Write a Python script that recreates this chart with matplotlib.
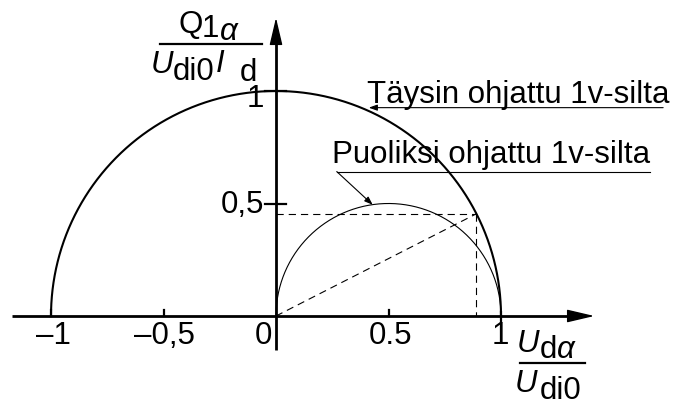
import numpy as np
import matplotlib
matplotlib.use('Agg')
import matplotlib.pyplot as plt
from matplotlib.patches import FancyArrowPatch

plt.rcParams['font.family'] = ['Liberation Sans', 'DejaVu Sans']

# circle diagram values (per unit)
full_radius = 1.0
half_center = 0.5
half_radius = 0.5
point_x = 0.89
point_y = 0.454

x_ticks = [-1, -0.5, 0, 0.5, 1]
x_labels = ['\u20131', '\u20130,5', '0', '0.5', '1']
y_ticks = [0.5, 1]
y_labels = ['0,5', '1']

label_full = 'Täysin ohjattu 1v-silta'
label_half = 'Puoliksi ohjattu 1v-silta'

fs = 22.5

fig = plt.figure(figsize=(6.75, 4), dpi=100)
ax = fig.add_axes([0, 0, 1, 1])
ax.set_xlim(-276 / 225, (675 - 276) / 225)
ax.set_ylim(-(400 - 316) / 225, 316 / 225)
ax.axis('off')

# axes with arrow heads
ax.plot([-1.173, 1.36], [0, 0], color='black', lw=2, solid_capstyle='butt')
ax.plot([0, 0], [-0.151, 1.28], color='black', lw=2, solid_capstyle='butt')
for tail, tip in [((1.30, 0), (1.427, 0)), ((0, 1.22), (0, 1.338))]:
    ax.add_patch(FancyArrowPatch(tail, tip, arrowstyle='-|>,head_length=1.7,head_width=0.4',
                                 mutation_scale=10, color='black', lw=1))

# ticks
for t in x_ticks:
    if t == 0:
        continue
    if t == 1:
        ax.plot([t, t], [-0.025, 0.02], color='black', lw=1.6)
    else:
        ax.plot([t, t], [0, 0.025], color='black', lw=1.6)
for t in y_ticks:
    ax.plot([-0.05, 0.045], [t, t], color='black', lw=1.6)

# tick labels
x_label_pos = {-1: -0.99, -0.5: -0.498, 0: -0.056, 0.5: 0.51, 1: 0.995}
for t, lab in zip(x_ticks, x_labels):
    ax.text(x_label_pos[t], -0.124, lab, fontsize=fs, ha='center', va='baseline')
y_label_base = {0.5: 0.458, 1: 0.929}
for t, lab in zip(y_ticks, y_labels):
    ax.text(-0.052, y_label_base[t], lab, fontsize=fs, ha='right', va='baseline')

# full and half controlled bridge semicircles
th = np.linspace(0, np.pi, 400)
ax.plot(full_radius * np.cos(th), full_radius * np.sin(th), color='black', lw=1.5)
ax.plot(half_center + half_radius * np.cos(th), half_radius * np.sin(th), color='black', lw=0.8)

# operating point construction
dash = (0, (6.5, 4.5))
ax.plot([0, point_x], [point_y, point_y], color='black', lw=0.8, linestyle=dash)
ax.plot([point_x, point_x], [point_y, 0], color='black', lw=0.8, linestyle=dash)
ax.plot([0, point_x], [0, point_y], color='black', lw=0.8, linestyle=dash)

# labels with leader lines
ax.text(0.404, 0.945, label_full, fontsize=fs, ha='left', va='baseline')
ax.add_patch(FancyArrowPatch((1.733, 0.926), (0.40, 0.926),
                             arrowstyle='-|>,head_length=0.5,head_width=0.18',
                             mutation_scale=10, color='black', lw=0.8))
ax.text(0.247, 0.679, label_half, fontsize=fs, ha='left', va='baseline')
ax.plot([0.27, 1.662], [0.642, 0.642], color='black', lw=0.8)
ax.add_patch(FancyArrowPatch((0.27, 0.642), (0.43, 0.494),
                             arrowstyle='-|>,head_length=0.5,head_width=0.18',
                             mutation_scale=10, color='black', lw=0.8, shrinkA=0, shrinkB=0))

# y axis quantity Q1a / (Udi0 Id)
ax.text(-0.435, 1.258, 'Q', fontsize=fs, va='baseline')
ax.text(-0.33, 1.241, '1', fontsize=fs, va='baseline')
ax.text(-0.25, 1.227, '\u03b1', fontsize=fs, style='italic', va='baseline')
ax.plot([-0.516, -0.062], [1.208, 1.208], color='black', lw=1.6)
ax.text(-0.555, 1.08, 'U', fontsize=fs, style='italic', va='baseline')
ax.text(-0.457, 1.049, 'di0', fontsize=fs, va='baseline')
ax.text(-0.266, 1.086, 'I', fontsize=fs, style='italic', va='baseline')
ax.text(-0.16, 1.044, 'd', fontsize=fs, va='baseline')

# x axis quantity Uda / Udi0
ax.text(1.068, -0.159, 'U', fontsize=fs, style='italic', va='baseline')
ax.text(1.172, -0.187, 'd', fontsize=fs, va='baseline')
ax.text(1.25, -0.187, '\u03b1', fontsize=fs, style='italic', va='baseline')
ax.plot([1.084, 1.373], [-0.207, -0.207], color='black', lw=1.6)
ax.text(1.062, -0.338, 'U', fontsize=fs, style='italic', va='baseline')
ax.text(1.172, -0.369, 'di0', fontsize=fs, va='baseline')

fig.savefig('out.png', dpi=100)
